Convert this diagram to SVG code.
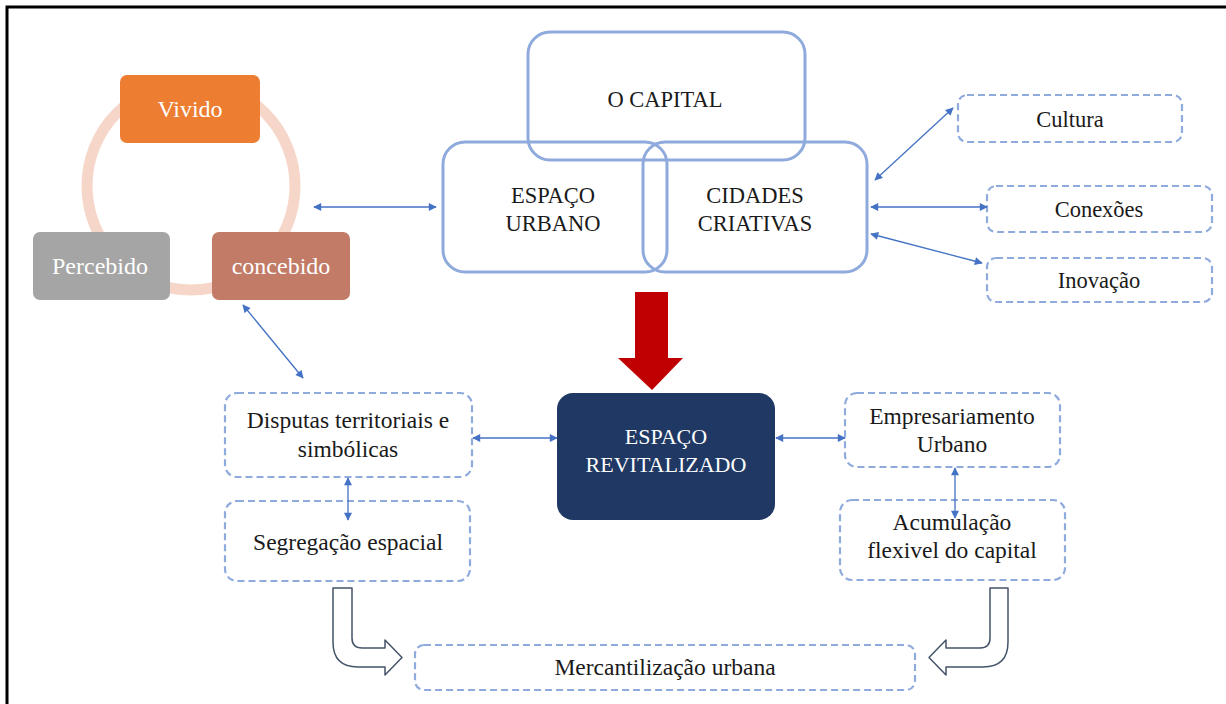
<svg xmlns="http://www.w3.org/2000/svg" width="1226" height="704" viewBox="0 0 1226 704">
<style>
  .t{font-family:"Liberation Serif","Times New Roman",serif;font-size:22.5px;fill:#1a1a1a;text-anchor:middle}
  .tb{font-family:"Liberation Serif","Times New Roman",serif;font-size:23.5px;fill:#1a1a1a;text-anchor:middle}
  .tw{font-family:"Liberation Serif","Times New Roman",serif;font-size:22px;fill:#ffffff;text-anchor:middle}
  .tc{font-family:"Liberation Serif","Times New Roman",serif;font-size:24px;fill:#ffffff;text-anchor:middle}
  .solid{fill:none;stroke:#8FAADC;stroke-width:3}
  .dash{fill:#ffffff;stroke:#8FAADC;stroke-width:2.2;stroke-dasharray:7 4}
  .con{fill:none;stroke:#4472C4;stroke-width:1.3;marker-start:url(#ah);marker-end:url(#ah)}
  .hollow{fill:#ffffff;stroke:#44546A;stroke-width:1.5;stroke-linejoin:round}
</style>
<defs>
  <marker id="ah" viewBox="0 0 10 10" refX="9" refY="5" markerWidth="9" markerHeight="8" markerUnits="userSpaceOnUse" orient="auto-start-reverse">
    <path d="M0,0 L10,5 L0,10 Z" fill="#4472C4"/>
  </marker>
</defs>
<rect width="1226" height="704" fill="#ffffff"/>
<g id="frame">
  <path d="M7,704 L7,7 L1226,7" fill="none" stroke="#000000" stroke-width="3"/>
</g>
<g id="cycle-ring">
  <circle cx="191" cy="186" r="104" fill="none" stroke="#F6D6C9" stroke-width="11"/>
</g>
<g id="vivido">
  <rect x="120" y="75" width="140" height="68" rx="7" fill="#ED7D31"/>
  <text class="tc" x="190" y="117">Vivido</text>
</g>
<g id="percebido">
  <rect x="33" y="232" width="137" height="68" rx="7" fill="#A5A5A5"/>
  <text class="tc" x="100" y="274">Percebido</text>
</g>
<g id="concebido">
  <rect x="212" y="232" width="138" height="68" rx="7" fill="#C27B66"/>
  <text class="tc" x="281" y="274">concebido</text>
</g>
<g id="o-capital">
  <rect class="solid" x="528" y="32" width="277" height="128" rx="22"/>
  <text class="t" x="665" y="107">O CAPITAL</text>
</g>
<g id="espaco-urbano">
  <rect class="solid" x="443" y="142" width="224" height="130" rx="22"/>
  <text class="t" x="553" y="203">ESPAÇO</text>
  <text class="t" x="553" y="231">URBANO</text>
</g>
<g id="cidades-criativas">
  <rect class="solid" x="643" y="142" width="224" height="130" rx="22"/>
  <text class="t" x="755" y="203">CIDADES</text>
  <text class="t" x="755" y="231">CRIATIVAS</text>
</g>
<g id="cultura">
  <rect class="dash" x="958" y="95" width="224" height="47" rx="9"/>
  <text class="t" x="1070" y="127">Cultura</text>
</g>
<g id="conexoes">
  <rect class="dash" x="987" y="186" width="225" height="46" rx="9"/>
  <text class="t" x="1099" y="217">Conexões</text>
</g>
<g id="inovacao">
  <rect class="dash" x="987" y="258" width="225" height="44" rx="9"/>
  <text class="t" x="1099" y="288">Inovação</text>
</g>
<g id="espaco-revitalizado">
  <rect x="557" y="393" width="218" height="127" rx="16" fill="#1F3864"/>
  <text class="tw" x="666" y="444">ESPAÇO</text>
  <text class="tw" x="666" y="472">REVITALIZADO</text>
</g>
<g id="disputas">
  <rect class="dash" x="225" y="393" width="247" height="84" rx="12"/>
  <text class="tb" x="348" y="428">Disputas territoriais e</text>
  <text class="tb" x="348" y="457">simbólicas</text>
</g>
<g id="segregacao">
  <rect class="dash" x="225" y="501" width="245" height="80" rx="12"/>
  <text class="tb" x="348" y="550">Segregação espacial</text>
</g>
<g id="empresariamento">
  <rect class="dash" x="845" y="393" width="215" height="74" rx="12"/>
  <text class="tb" x="952" y="424">Empresariamento</text>
  <text class="tb" x="952" y="452">Urbano</text>
</g>
<g id="acumulacao">
  <rect class="dash" x="840" y="500" width="225" height="80" rx="12"/>
  <text class="tb" x="952" y="530">Acumulação</text>
  <text class="tb" x="952" y="558">flexivel do capital</text>
</g>
<g id="mercantilizacao">
  <rect class="dash" x="415" y="645" width="500" height="45" rx="9"/>
  <text class="tb" x="665" y="675">Mercantilização urbana</text>
</g>
<g id="connectors">
  <line class="con" x1="314" y1="207" x2="436" y2="207"/>
  <line class="con" x1="875" y1="180" x2="953" y2="108"/>
  <line class="con" x1="871" y1="207" x2="987" y2="207"/>
  <line class="con" x1="871" y1="234" x2="982" y2="263"/>
  <line class="con" x1="243" y1="305" x2="303" y2="378"/>
  <line class="con" x1="473" y1="438" x2="557" y2="438"/>
  <line class="con" x1="776" y1="438" x2="845" y2="438"/>
  <line class="con" x1="348" y1="478" x2="348" y2="520"/>
  <line class="con" x1="955" y1="468" x2="955" y2="518"/>
  <path d="M635,292 L668,292 L668,358 L683,358 L652,390 L618,358 L635,358 Z" fill="#C00000"/>
  <path class="hollow" d="M333,588 L352,588 L352,638 Q352,648 362,648 L385,648 L385,640 L402,657.5 L385,675 L385,667 L358,667 Q333,667 333,642 Z"/>
  <path class="hollow" d="M1008,588 L990,588 L990,638 Q990,648 980,648 L946,648 L946,640 L929,657.5 L946,675 L946,667 L983,667 Q1008,667 1008,642 Z"/>
</g>
</svg>
